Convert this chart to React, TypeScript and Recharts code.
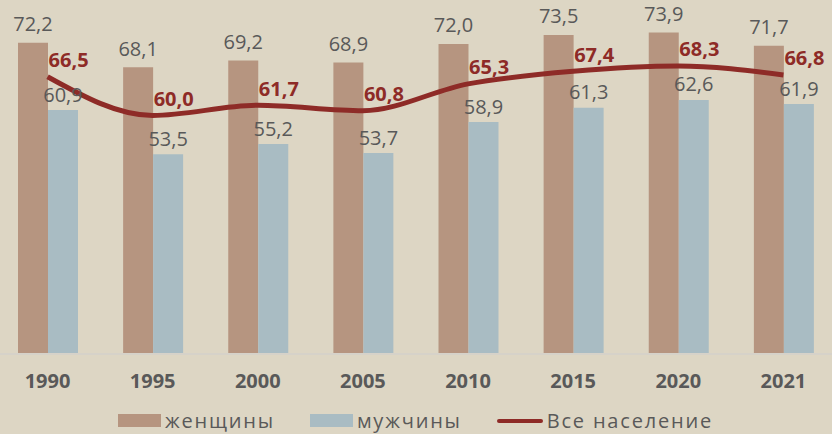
import { ComposedChart, Bar, Line, XAxis, YAxis, Legend, LabelList } from 'recharts'

const years = ['1990', '1995', '2000', '2005', '2010', '2015', '2020', '2021']
const women = [72.2, 68.1, 69.2, 68.9, 72.0, 73.5, 73.9, 71.7]
const men = [60.9, 53.5, 55.2, 53.7, 58.9, 61.3, 62.6, 61.9]
const total = [66.5, 60.0, 61.7, 60.8, 65.3, 67.4, 68.3, 66.8]

const seriesNames = { women: 'женщины', men: 'мужчины', total: 'Все население' }

const data = years.map((year, i) => ({
  year,
  women: women[i],
  men: men[i],
  total: total[i],
}))

const BG = '#ddd6c4'
const BROWN = '#b69580'
const BLUE = '#a9bcc3'
const RED = '#8e2b27'
const GRAY = '#595959'
const FONT = '"Open Sans", sans-serif'

const fmt = (v: number) => v.toFixed(1).replace('.', ',')

const barLabel = (lift: number) => (props: any) => {
  const { x, y, width, value } = props
  return (
    <text
      x={x + width / 2}
      y={y - lift}
      textAnchor="middle"
      dominantBaseline="central"
      fontSize={20}
      fontFamily={FONT}
      fill={GRAY}
    >
      {fmt(value)}
    </text>
  )
}

const lineLabel = (props: any) => {
  const { x, y, value } = props
  return (
    <text
      x={x + 1}
      y={y - 17}
      textAnchor="start"
      dominantBaseline="central"
      fontSize={20}
      fontWeight={700}
      fontFamily={FONT}
      fill={RED}
    >
      {fmt(value)}
    </text>
  )
}

const renderLegend = () => {
  const textStyle = {
    fontSize: 20,
    lineHeight: '20px',
    letterSpacing: 1.8,
    color: GRAY,
    fontFamily: FONT,
    marginLeft: 4,
  }
  return (
    <div
      style={{
        height: 34,
        paddingTop: 7,
        boxSizing: 'border-box',
        display: 'flex',
        justifyContent: 'center',
        alignItems: 'center',
      }}
    >
      <div style={{ display: 'flex', alignItems: 'center', marginRight: 35 }}>
        <div style={{ width: 43, height: 13, background: BROWN }} />
        <span style={textStyle}>{seriesNames.women}</span>
      </div>
      <div style={{ display: 'flex', alignItems: 'center', marginRight: 35 }}>
        <div style={{ width: 43, height: 13, background: BLUE }} />
        <span style={textStyle}>{seriesNames.men}</span>
      </div>
      <div style={{ display: 'flex', alignItems: 'center' }}>
        <div style={{ width: 46, height: 4, background: RED, borderRadius: 2 }} />
        <span style={textStyle}>{seriesNames.total}</span>
      </div>
    </div>
  )
}

export default function App() {
  return (
    <div
      style={{
        position: 'fixed',
        top: 0,
        left: 0,
        width: 832,
        height: 434,
        overflow: 'hidden',
        background: BG,
      }}
    >
      <div style={{ marginLeft: -5 }}>
        <ComposedChart
          width={841}
          height={434}
          data={data}
          margin={{ top: 26, right: 0, left: 0, bottom: 0 }}
          barGap={0}
          barSize={30}
        >
          <XAxis
            dataKey="year"
            height={46}
            axisLine={{ stroke: '#d6d2c9', strokeWidth: 2 }}
            tickLine={false}
            tickMargin={14}
            tick={{ fontSize: 20, fontWeight: 700, fill: GRAY, fontFamily: FONT }}
          />
          <YAxis hide domain={[20, 75]} allowDataOverflow />
          <Legend verticalAlign="bottom" content={renderLegend} />
          <Bar dataKey="women" name={seriesNames.women} fill={BROWN} isAnimationActive={false}>
            <LabelList dataKey="women" content={barLabel(19)} />
          </Bar>
          <Bar dataKey="men" name={seriesNames.men} fill={BLUE} isAnimationActive={false}>
            <LabelList dataKey="men" content={barLabel(16)} />
          </Bar>
          <Line
            type="monotone"
            dataKey="total"
            name={seriesNames.total}
            stroke={RED}
            strokeWidth={5}
            dot={false}
            isAnimationActive={false}
          >
            <LabelList dataKey="total" content={lineLabel} />
          </Line>
        </ComposedChart>
      </div>
    </div>
  )
}
